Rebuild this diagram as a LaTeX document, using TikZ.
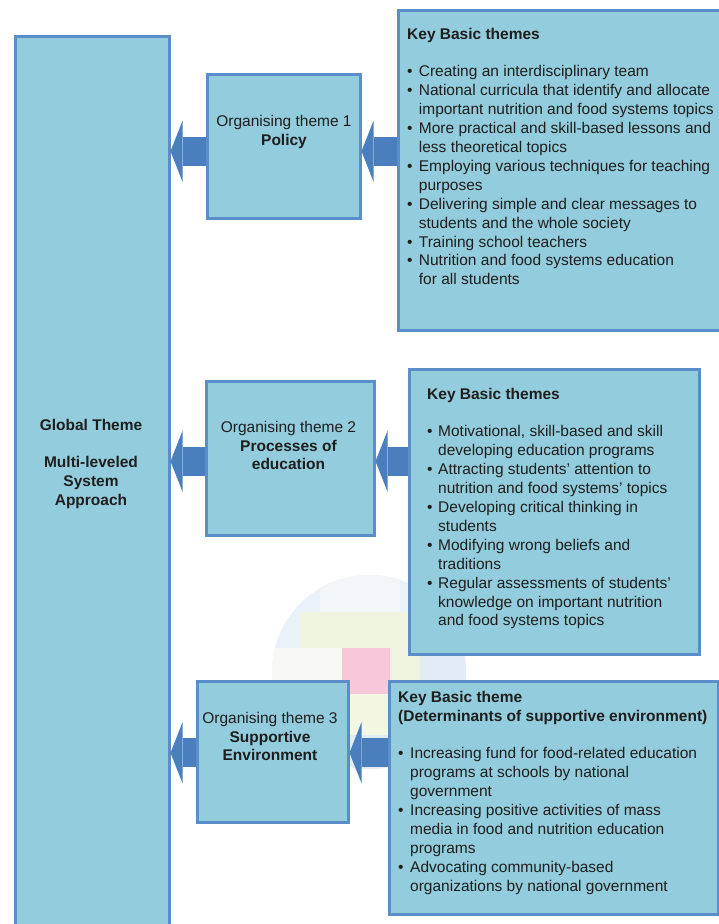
\documentclass[tikz,border=0pt]{standalone}
\usepackage{fontspec}
\setmainfont{Liberation Sans}
\usetikzlibrary{arrows.meta,calc}
\definecolor{boxfill}{HTML}{93CDDD}
\definecolor{boxline}{HTML}{5B8DC9}
\definecolor{arrowblue}{HTML}{4A7EBD}
\definecolor{txt}{HTML}{1E1E1E}
\definecolor{wmbase}{HTML}{F5F8EE}
\definecolor{wmblue}{HTML}{EBF1F8}
\definecolor{wmlight}{HTML}{F2F6F9}
\definecolor{wmgreen}{HTML}{EEF4E0}
\definecolor{wmpink}{HTML}{F6C8DA}
\definecolor{wmblue2}{HTML}{E2ECF6}
\definecolor{wmyellow}{HTML}{F4F6E4}
\definecolor{wmwhite}{HTML}{F7F9F2}
\newcommand{\kb}[1]{\makebox[#1][l]{\textbullet}}
\newcommand{\ki}[1]{\hspace*{#1}}
\begin{document}
\begin{tikzpicture}[x=1pt,y=1pt,
  panel/.style={draw=boxline, line width=2.5pt, fill=boxfill, inner sep=0pt, anchor=north west},
  txtblock/.style={inner sep=0pt, text=txt, font=\fontsize{15.5}{18.9}\selectfont},
  blockarr/.style={draw=arrowblue, line width=29pt, -{Triangle[width=61pt,length=12pt,line width=0pt]}}
]
\useasboundingbox (0,0) rectangle (719,-924);
\clip (0,0) rectangle (719,-924);
\fill[white] (0,0) rectangle (719,-924);

% faint watermark
\begin{scope}
\clip (369,-672) circle (97);
\fill[wmbase] (272,-575) rectangle (466,-769);
\fill[wmblue] (272,-575) rectangle (466,-612);
\fill[wmlight] (320,-575) rectangle (400,-612);
\fill[wmblue] (272,-612) rectangle (300,-650);
\fill[wmgreen] (300,-612) rectangle (440,-648);
\fill[wmwhite] (272,-648) rectangle (342,-694);
\fill[wmpink] (342,-648) rectangle (390,-694);
\fill[wmgreen] (390,-648) rectangle (420,-694);
\fill[wmblue2] (420,-630) rectangle (466,-690);
\fill[wmyellow] (272,-694) rectangle (466,-769);
\fill[wmblue2] (350,-735) rectangle (390,-769);
\end{scope}

% panels
\node[panel, minimum width=154pt, minimum height=910pt] (glob) at (14,-35) {};
\node[panel, minimum width=153pt, minimum height=144pt] (org1) at (206,-73) {};
\node[panel, minimum width=323pt, minimum height=320pt] (key1) at (397,-9) {};
\node[panel, minimum width=168pt, minimum height=154pt] (org2) at (205,-380) {};
\node[panel, minimum width=290pt, minimum height=285pt] (key2) at (408,-368) {};
\node[panel, minimum width=151pt, minimum height=141pt] (org3) at (196,-680) {};
\node[panel, minimum width=329pt, minimum height=233pt] (key3) at (388,-680) {};

% arrows
\coordinate (a1) at ([yshift=-5pt]org1.west);
\coordinate (a2) at ([yshift=-3pt]org2.west);
\coordinate (a3) at ([yshift=-1pt]org3.west);
\draw[blockarr] (a1) -- (a1 -| glob.east);
\draw[blockarr] (key1.west |- a1) -- (org1.east |- a1);
\draw[blockarr] (a2) -- (a2 -| glob.east);
\draw[blockarr] (key2.west |- a2) -- (org2.east |- a2);
\draw[blockarr] (a3) -- (a3 -| glob.east);
\draw[blockarr] (key3.west |- a3) -- (org3.east |- a3);

% texts
\node[txtblock, align=center, anchor=north] (globtxt) at (91,-418.7)
  {\textbf{Global Theme}\\[18.9pt]\textbf{Multi-leveled}\\\textbf{System}\\\textbf{Approach}};
\node[txtblock, align=center, anchor=north] (org1txt) at (284,-114.7)
  {Organising theme 1\\\textbf{Policy}};
\node[txtblock, align=center, anchor=north] (org2txt) at (288.5,-420.7)
  {Organising theme 2\\\textbf{Processes of}\\\textbf{education}};
\node[txtblock, align=center, anchor=north] (org3txt) at (270,-711.7)
  {Organising theme 3\\\textbf{Supportive}\\\textbf{Environment}};

\node[txtblock, align=left, anchor=north west] (key1txt) at (407,-27.7)
  {\textbf{Key Basic themes}\\[18.9pt]
   \kb{11.7pt}Creating an interdisciplinary team\\
   \kb{11.7pt}National curricula that identify and allocate\\
   \ki{11.7pt}important nutrition and food systems topics\\
   \kb{11.7pt}More practical and skill-based lessons and\\
   \ki{11.7pt}less theoretical topics\\
   \kb{11.7pt}Employing various techniques for teaching\\
   \ki{11.7pt}purposes\\
   \kb{11.7pt}Delivering simple and clear messages to\\
   \ki{11.7pt}students and the whole society\\
   \kb{11.7pt}Training school teachers\\
   \kb{11.7pt}Nutrition and food systems education\\
   \ki{11.7pt}for all students};

\node[txtblock, align=left, anchor=north west] (key2txt) at (427,-387.7)
  {\textbf{Key Basic themes}\\[18.9pt]
   \kb{11pt}Motivational, skill-based and skill\\
   \ki{11pt}developing education programs\\
   \kb{11pt}Attracting students’ attention to\\
   \ki{11pt}nutrition and food systems’ topics\\
   \kb{11pt}Developing critical thinking in\\
   \ki{11pt}students\\
   \kb{11pt}Modifying wrong beliefs and\\
   \ki{11pt}traditions\\
   \kb{11pt}Regular assessments of students’\\
   \ki{11pt}knowledge on important nutrition\\
   \ki{11pt}and food systems topics};

\node[txtblock, align=left, anchor=north west] (key3txt) at (398,-690.7)
  {\textbf{Key Basic theme}\\
   \textbf{(Determinants of supportive environment)}\\[18.9pt]
   \kb{12pt}Increasing fund for food-related education\\
   \ki{12pt}programs at schools by national\\
   \ki{12pt}government\\
   \kb{12pt}Increasing positive activities of mass\\
   \ki{12pt}media in food and nutrition education\\
   \ki{12pt}programs\\
   \kb{12pt}Advocating community-based\\
   \ki{12pt}organizations by national government};
\end{tikzpicture}
\end{document}
